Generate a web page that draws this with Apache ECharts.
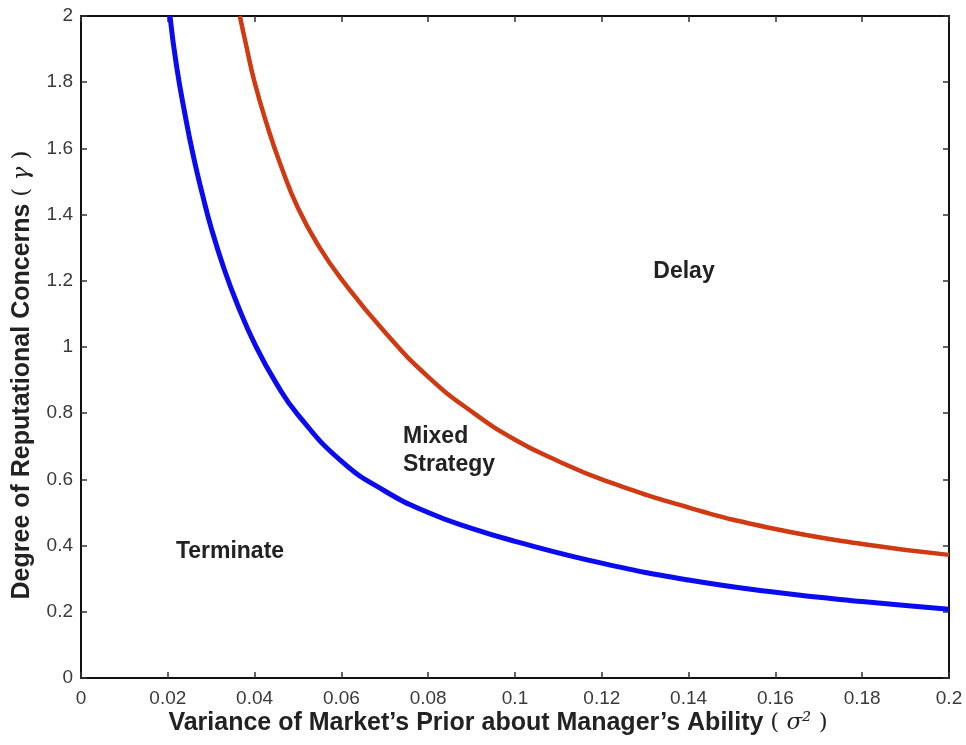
<!DOCTYPE html>
<html>
<head>
<meta charset="utf-8">
<style>
  html, body { margin: 0; padding: 0; background: #fff; }
  #chart { width: 966px; height: 745px; }
</style>
<script src="https://cdn.jsdelivr.net/npm/echarts@6/dist/echarts.min.js"></script>
</head>
<body>
<div id="chart"></div>
<script>
// sigma^2 / gamma readings for the lower (terminate) boundary
var blueX = [0.0205, 0.022, 0.024, 0.026, 0.028, 0.03, 0.033, 0.036, 0.04, 0.045, 0.05, 0.06, 0.07, 0.08, 0.09, 0.1, 0.12, 0.14, 0.16, 0.18, 0.2]
var blueY = [2.0, 1.85, 1.70, 1.57, 1.46, 1.36, 1.235, 1.13, 1.01, 0.89, 0.795, 0.655, 0.565, 0.50, 0.452, 0.413, 0.347, 0.296, 0.259, 0.231, 0.208]
// upper (delay) boundary
var redX = [0.0366, 0.038, 0.04, 0.043, 0.046, 0.05, 0.055, 0.06, 0.07, 0.08, 0.09, 0.1, 0.11, 0.12, 0.14, 0.16, 0.18, 0.2]
var redY = [2.0, 1.915, 1.80, 1.665, 1.55, 1.42, 1.30, 1.205, 1.045, 0.91, 0.805, 0.72, 0.655, 0.60, 0.515, 0.45, 0.405, 0.372]
var xTicks = [0, 0.02, 0.04, 0.06, 0.08, 0.1, 0.12, 0.14, 0.16, 0.18, 0.2]
var yTicks = [0, 0.2, 0.4, 0.6, 0.8, 1, 1.2, 1.4, 1.6, 1.8, 2]

var chart = echarts.init(document.getElementById('chart'))

function pairs (xs, ys) {
  return xs.map(function (x, i) { return [x, ys[i]] })
}
function tickText (list) {
  return function (v) {
    var t = list.find(function (k) { return Math.abs(k - v) < 1e-9 })
    return t === undefined ? '' : String(t)
  }
}

var boxLine = { show: true, onZero: false, lineStyle: { color: '#111', width: 2 } }
var tickIn = { show: true, inside: true, length: 6, lineStyle: { color: '#333', width: 1.5 } }
var font = 'Liberation Sans, Arial, sans-serif'
var bold = 'bold 23px Liberation Sans, Arial, sans-serif'
var boldName = 'bold 25px Liberation Sans, Arial, sans-serif'

var option = {
  backgroundColor: '#fff',
  animation: false,
  grid: { left: 81, right: 17, top: 16, bottom: 67 },
  xAxis: [
    {
      type: 'value', min: 0, max: 0.2, interval: 0.02,
      axisLine: boxLine, axisTick: tickIn, splitLine: { show: false },
      axisLabel: { margin: 11, fontSize: 19, color: '#3a3a3a', fontFamily: font, formatter: tickText(xTicks) }
    },
    {
      type: 'value', min: 0, max: 0.2, interval: 0.02, position: 'top',
      axisLine: boxLine, axisTick: tickIn, axisLabel: { show: false }, splitLine: { show: false }
    }
  ],
  yAxis: [
    {
      type: 'value', min: 0, max: 2, interval: 0.2,
      axisLine: boxLine, axisTick: tickIn, splitLine: { show: false },
      axisLabel: { margin: 8, fontSize: 19, color: '#3a3a3a', fontFamily: font, formatter: tickText(yTicks) }
    },
    {
      type: 'value', min: 0, max: 2, interval: 0.2, position: 'right',
      axisLine: boxLine, axisTick: tickIn, axisLabel: { show: false }, splitLine: { show: false }
    }
  ],
  series: [
    {
      name: 'Terminate boundary', type: 'line', smooth: true, symbol: 'none',
      data: pairs(blueX, blueY),
      lineStyle: { color: '#0b0bf0', width: 5 }
    },
    {
      name: 'Delay boundary', type: 'line', smooth: true, symbol: 'none',
      data: pairs(redX, redY),
      lineStyle: { color: '#d03a12', width: 4.5 }
    }
  ],
  graphic: [
    {
      type: 'text', x: 22, y: 375, rotation: Math.PI / 2,
      style: {
        text: '{b|Degree of Reputational Concerns}  {p|( }{g|\u03b3}{p| )}',
        align: 'center', verticalAlign: 'middle',
        rich: {
          b: { font: boldName, fill: '#222' },
          p: { font: '23px DejaVu Serif, serif', fill: '#222' },
          g: { font: 'italic 23px DejaVu Serif, serif', fill: '#222' }
        }
      }
    },
    {
      type: 'text', x: 498, y: 723,
      style: {
        text: '{b|Variance of Market\u2019s Prior about Manager\u2019s Ability}  {p|( }{g|\u03c3\u00b2}{p| )}',
        align: 'center', verticalAlign: 'middle',
        rich: {
          b: { font: boldName, fill: '#222' },
          p: { font: '23px DejaVu Serif, serif', fill: '#222' },
          g: { font: 'italic 23px DejaVu Serif, serif', fill: '#222' }
        }
      }
    },
    {
      type: 'text', x: 684, y: 272,
      style: { text: 'Delay', fill: '#222', font: bold, align: 'center', verticalAlign: 'middle' }
    },
    {
      type: 'text', x: 403, y: 437,
      style: { text: 'Mixed', fill: '#222', font: bold, align: 'left', verticalAlign: 'middle' }
    },
    {
      type: 'text', x: 403, y: 465,
      style: { text: 'Strategy', fill: '#222', font: bold, align: 'left', verticalAlign: 'middle' }
    },
    {
      type: 'text', x: 230, y: 552,
      style: { text: 'Terminate', fill: '#222', font: bold, align: 'center', verticalAlign: 'middle' }
    }
  ]
}

chart.setOption(option)
</script>
</body>
</html>
